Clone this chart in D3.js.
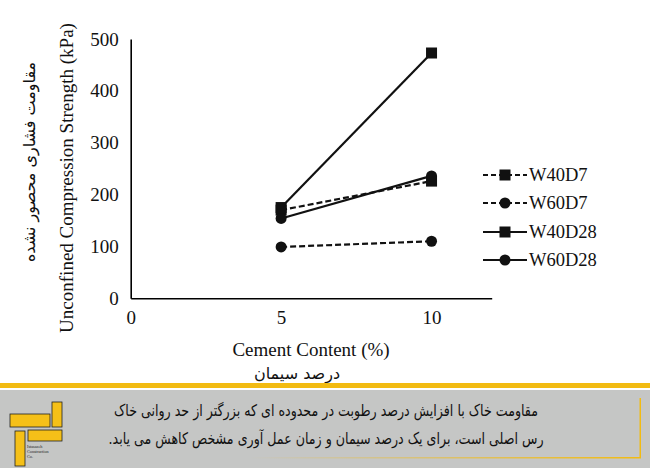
<!DOCTYPE html>
<html><head><meta charset="utf-8">
<script src="https://cdn.jsdelivr.net/npm/d3@7"></script>
<style>body{margin:0;background:#fff}svg{display:block}</style>
</head><body>
<script>
const xCats = [5, 10];
const seriesNames = ["W40D7", "W60D7", "W40D28", "W60D28"];
const W40D7 = [170, 226];
const W60D7 = [99, 110];
const W40D28 = [175, 473];
const W60D28 = [154, 236];
const seriesValues = [W40D7, W60D7, W40D28, W60D28];
const seriesDashed = [true, true, false, false];
const seriesMarker = ["square", "circle", "square", "circle"];
const xTicks = [0, 5, 10];
const yTicks = [0, 100, 200, 300, 400, 500];
const yTitle = "Unconfined Compression Strength (kPa)";
const xTitle = "Cement Content (%)";
const yTitleFa = "مقاومت فشاری محصور نشده";
const xTitleFa = "درصد سیمان";
const caption1 = "مقاومت خاک با افزایش درصد رطوبت در محدوده ای که بزرگتر از حد روانی خاک";
const caption2 = "رس اصلی است، برای یک درصد سیمان و زمان عمل آوری مشخص کاهش می یابد.";

const W = 650, H = 468;
const svg = d3.select("body").append("svg").attr("width", W).attr("height", H);
const serif = "'Liberation Serif','Times New Roman',serif";
const fa = "'DejaVu Sans',sans-serif";

const x = d3.scaleLinear().domain([0, 12]).range([130.7, 491.7]);
const y = d3.scaleLinear().domain([0, 500]).range([298.3, 39]);

// axes
const xAxis = svg.append("g").attr("transform", `translate(0,${y(0)})`)
  .call(d3.axisBottom(x).tickValues(xTicks).tickSize(0).tickPadding(12).tickFormat(d3.format("d")));
xAxis.select(".domain").attr("stroke", "#000").attr("stroke-width", 1.6);
xAxis.selectAll("text").attr("font-family", serif).attr("font-size", 19).attr("fill", "#111");
const yAxis = svg.append("g").attr("transform", `translate(${x(0)},0)`)
  .call(d3.axisLeft(y).tickValues(yTicks).tickSize(0).tickPadding(12).tickFormat(d3.format("d")));
yAxis.select(".domain").attr("stroke", "#000").attr("stroke-width", 1.6);
yAxis.selectAll("text").attr("font-family", serif).attr("font-size", 19).attr("fill", "#111");

// titles
svg.append("text").attr("transform", "translate(73,178) rotate(-90)").attr("text-anchor", "middle")
  .attr("font-family", serif).attr("font-size", 19).attr("fill", "#111").text(yTitle);
svg.append("text").attr("transform", "translate(35,162) rotate(-90)").attr("text-anchor", "middle")
  .style("direction", "rtl")
  .attr("font-family", fa).attr("font-size", 16).attr("fill", "#111").text(yTitleFa);
svg.append("text").attr("x", 311).attr("y", 356).attr("text-anchor", "middle")
  .attr("font-family", serif).attr("font-size", 19).attr("fill", "#111").text(xTitle);
svg.append("text").attr("x", 297).attr("y", 379).attr("text-anchor", "middle")
  .style("direction", "rtl")
  .attr("font-family", fa).attr("font-size", 16).attr("fill", "#111").text(xTitleFa);

// series
const line = d3.line().x((d, i) => x(xCats[i])).y(d => y(d));
function marker(g, type, cx, cy) {
  if (type === "square") g.append("rect").attr("x", cx - 5.5).attr("y", cy - 5.5).attr("width", 11).attr("height", 11).attr("fill", "#111");
  else g.append("circle").attr("cx", cx).attr("cy", cy).attr("r", 5.5).attr("fill", "#111");
}
seriesValues.forEach((vals, s) => {
  const g = svg.append("g");
  g.append("path").attr("d", line(vals)).attr("fill", "none").attr("stroke", "#111").attr("stroke-width", 2.2)
    .attr("stroke-dasharray", seriesDashed[s] ? "6,3" : null);
  vals.forEach((v, i) => marker(g, seriesMarker[s], x(xCats[i]), y(v)));
});

// legend
const legY = [175, 203, 232, 260];
seriesNames.forEach((n, s) => {
  const g = svg.append("g");
  g.append("line").attr("x1", 483).attr("x2", 527).attr("y1", legY[s]).attr("y2", legY[s])
    .attr("stroke", "#111").attr("stroke-width", 2).attr("stroke-dasharray", seriesDashed[s] ? "5,3" : null);
  marker(g, seriesMarker[s], 505, legY[s]);
  g.append("text").attr("x", 529).attr("y", legY[s] + 6).attr("font-family", serif).attr("font-size", 18.5)
    .attr("fill", "#111").text(n);
});

// bottom banner
svg.append("rect").attr("x", 0).attr("y", 383).attr("width", W).attr("height", 5).attr("fill", "#f2bb12");
svg.append("rect").attr("x", 0).attr("y", 390).attr("width", W).attr("height", 78).attr("fill", "#c5c6c5");
const defs = svg.append("defs");
const grad = defs.append("linearGradient").attr("id", "yg").attr("x1", 0).attr("x2", 1);
grad.append("stop").attr("offset", 0).attr("stop-color", "#c5c6c5");
grad.append("stop").attr("offset", 1).attr("stop-color", "#f2bb12");
svg.append("rect").attr("x", 250).attr("y", 457).attr("width", 391).attr("height", 1.5).attr("fill", "url(#yg)");
svg.append("rect").attr("x", 639.5).attr("y", 398).attr("width", 1.5).attr("height", 60).attr("fill", "#f2bb12");

// logo
const logo = svg.append("g").attr("fill", "#f5c018").attr("stroke", "#222").attr("stroke-width", 0.8);
logo.append("rect").attr("x", 52).attr("y", 402).attr("width", 10).attr("height", 25);
logo.append("rect").attr("x", 10).attr("y", 414).attr("width", 40).attr("height", 13);
logo.append("rect").attr("x", 28).attr("y", 430).attr("width", 34).attr("height", 11);
logo.append("rect").attr("x", 15).attr("y", 431).attr("width", 10).attr("height", 35);
const lt = svg.append("g").attr("font-family", serif).attr("font-size", 4.2).attr("fill", "#222");
lt.append("text").attr("x", 27).attr("y", 448).text("Istasazeh");
lt.append("text").attr("x", 27).attr("y", 453).text("Construction");
lt.append("text").attr("x", 27).attr("y", 458).text("Co.");

const cap = svg.append("g").attr("transform", "translate(326,0) scale(0.79,1)");
cap.append("text").attr("x", 0).attr("y", 416).attr("text-anchor", "middle").style("direction", "rtl")
  .attr("font-family", fa).attr("font-size", 16).attr("fill", "#111").text(caption1);
cap.append("text").attr("x", 0).attr("y", 444).attr("text-anchor", "middle").style("direction", "rtl")
  .attr("font-family", fa).attr("font-size", 16).attr("fill", "#111").text(caption2);
</script>
</body></html>
